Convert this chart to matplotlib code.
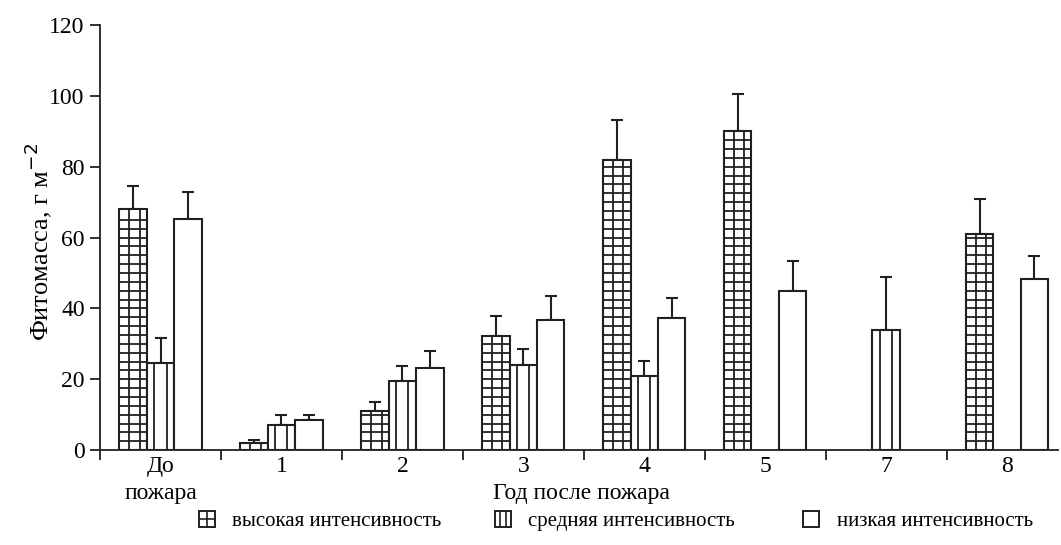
import numpy as np
import matplotlib
matplotlib.use('Agg')
import matplotlib.pyplot as plt
from matplotlib.patches import Rectangle
from matplotlib.lines import Line2D
from matplotlib.legend_handler import HandlerBase

matplotlib.rcParams.update({
    'font.family': 'serif',
    'font.serif': ['Liberation Serif', 'DejaVu Serif'],
    'font.size': 17,
})

groups = ['До\nпожара', '1', '2', '3', '4', '5', '7', '8']
high = [68, 2, 11.1, 32.2, 81.9, 90, np.nan, 61]
high_err = [6.5, 0.8, 2.5, 5.6, 11.3, 10.6, np.nan, 9.9]
medium = [24.6, 7.2, 19.5, 24.1, 21, np.nan, 33.9, np.nan]
medium_err = [7.2, 2.6, 4.2, 4.4, 4.1, np.nan, 14.9, np.nan]
low = [65.2, 8.4, 23.1, 36.7, 37.4, 44.9, np.nan, 48.3]
low_err = [7.8, 1.5, 4.9, 6.8, 5.5, 8.6, np.nan, 6.5]
series_names = ['высокая интенсивность', 'средняя интенсивность', 'низкая интенсивность']

INK = '#231f20'
W = 0.227
LW = 1.5

fig = plt.figure(figsize=(10.61, 5.45), dpi=100)
ax = fig.add_axes([0.0943, 0.174, 0.9027, 0.780])

x = np.arange(len(groups))


def draw_series(vals, errs, offset, vfrac, hstep):
    vals = np.array(vals, dtype=float)
    errs = np.array(errs, dtype=float)
    ok = ~np.isnan(vals)
    xs = x[ok] + offset
    ax.bar(xs, vals[ok], width=W, facecolor='white', edgecolor=INK,
           linewidth=LW, zorder=3)
    # error bars (upward only)
    ax.errorbar(xs, vals[ok], yerr=[np.zeros(ok.sum()), errs[ok]], fmt='none',
                ecolor=INK, elinewidth=LW, capsize=4, capthick=LW, zorder=2)
    # hatching drawn inside each bar
    for xc, h in zip(xs, vals[ok]):
        left = xc - W / 2
        for f in vfrac:
            ax.plot([left + f * W, left + f * W], [0, h], color=INK,
                    lw=1.3, zorder=4)
        if hstep:
            for yy in np.arange(hstep, h - 0.8, hstep):
                ax.plot([left, left + W], [yy, yy], color=INK, lw=1.3, zorder=4)


draw_series(high, high_err, -W, [0.36, 0.74], 2.5)
draw_series(medium, medium_err, 0, [0.27, 0.72], None)
draw_series(low, low_err, W, [], None)

ax.set_xlim(-0.5, 7.42)
ax.set_ylim(0, 120)
ax.set_yticks(np.arange(0, 121, 20))
ax.set_xticks(np.arange(-0.5, 7.5, 1))
ax.set_xticklabels([])
ax.set_xticks(x, minor=True)
ax.set_xticklabels(groups, minor=True, linespacing=1.4)
ax.tick_params(axis='x', which='minor', length=0, pad=4)
ax.tick_params(axis='x', which='major', length=7, width=1.3, direction='out', color=INK)
ax.tick_params(axis='y', length=7, width=1.3, direction='out', color=INK, pad=4)
for s in ['top', 'right']:
    ax.spines[s].set_visible(False)
for s in ['left', 'bottom']:
    ax.spines[s].set_linewidth(1.3)
    ax.spines[s].set_color(INK)

ax.set_ylabel('Фитомасса, г м$^{-2}$', fontsize=19)
ax.yaxis.set_label_coords(-0.048, 0.49)
ax.set_xlabel('Год после пожара', fontsize=17)
ax.xaxis.set_label_coords(0.503, -0.077)


class BoxHandler(HandlerBase):
    def __init__(self, vfrac, hfrac):
        super().__init__()
        self.vfrac = vfrac
        self.hfrac = hfrac

    def create_artists(self, legend, orig_handle, xdescent, ydescent,
                       width, height, fontsize, trans):
        x0, y0 = -xdescent, -ydescent
        arts = [Rectangle((x0, y0), width, height, facecolor='white',
                          edgecolor=INK, lw=1.4, transform=trans)]
        for f in self.vfrac:
            arts.append(Line2D([x0 + f * width] * 2, [y0, y0 + height],
                               color=INK, lw=1.2, transform=trans))
        for f in self.hfrac:
            arts.append(Line2D([x0, x0 + width], [y0 + f * height] * 2,
                               color=INK, lw=1.2, transform=trans))
        return arts


handlers = [BoxHandler([0.5], [0.5]), BoxHandler([0.3, 0.7], []), BoxHandler([], [])]
legend_x = [0.1876, 0.4665, 0.757]
for name, hd, lx in zip(series_names, handlers, legend_x):
    h = Rectangle((0, 0), 1, 1)
    fig.legend([h], [name], loc='center left', bbox_to_anchor=(lx, 0.044),
               frameon=False, fontsize=15, borderpad=0, borderaxespad=0,
               handlelength=0.75, handleheight=0.8, handletextpad=0.85,
               handler_map={h: hd})

fig.savefig('out.png', dpi=100)
